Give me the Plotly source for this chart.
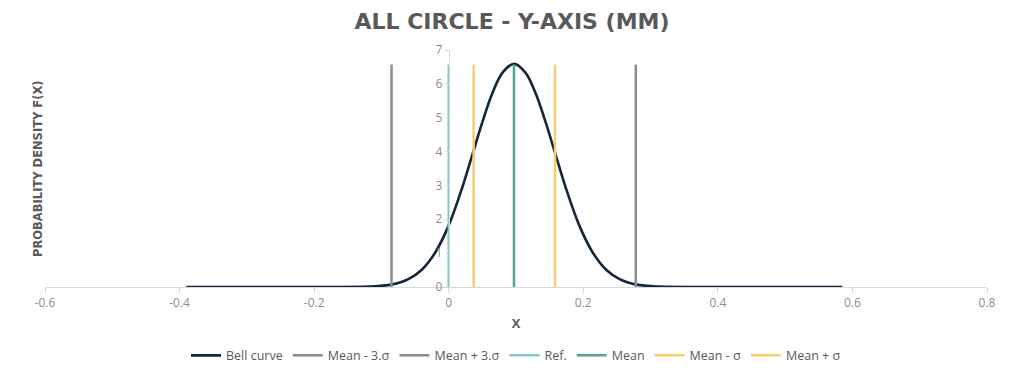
import plotly.graph_objects as go

# Bell curve points
curve_x = [-0.39, -0.2, -0.12, -0.085, -0.06, -0.04, -0.02, 0.0, 0.02, 0.037, 0.05, 0.065, 0.08, 0.097,
           0.114, 0.129, 0.144, 0.157, 0.174, 0.194, 0.214, 0.234, 0.254, 0.279, 0.314, 0.4, 0.585]
curve_y = [0.0, 0.0, 0.01, 0.07, 0.23, 0.51, 1.02, 1.82, 2.93, 4.03, 4.87, 5.73, 6.33, 6.59,
           6.33, 5.73, 4.87, 4.03, 2.93, 1.82, 1.02, 0.51, 0.23, 0.07, 0.01, 0.0, 0.0]

# Vertical reference lines
line_names = ["Mean - 3.σ", "Mean + 3.σ", "Ref.", "Mean", "Mean - σ", "Mean + σ"]
line_x = [-0.085, 0.278, 0.0, 0.097, 0.037, 0.158]
line_top = 6.57
line_colors = ["#8c8c8c", "#8c8c8c", "#7fcbc4", "#4fa887", "#f2d06b", "#f2d06b"]

x_ticks = [-0.6, -0.4, -0.2, 0, 0.2, 0.4, 0.6, 0.8]
y_ticks = [0, 1, 2, 3, 4, 5, 6, 7]

fig = go.Figure()
fig.add_trace(go.Scatter(x=curve_x, y=curve_y, mode="lines", name="Bell curve",
                         line=dict(color="#13263b", width=2.6, shape="spline", smoothing=1.0)))
for n, xv, c in zip(line_names, line_x, line_colors):
    fig.add_trace(go.Scatter(x=[xv, xv], y=[0, line_top], mode="lines", name=n,
                             line=dict(color=c, width=2.5)))

fig.update_layout(
    width=1024, height=383,
    paper_bgcolor="white", plot_bgcolor="white",
    margin=dict(l=45, r=37, t=50, b=94),
    title=dict(text="<b>ALL CIRCLE - Y-AXIS (MM)</b>", x=0.5, xanchor="center", y=0.945, yanchor="middle",
               font=dict(family="DejaVu Sans", size=22, color="#595959")),
    font=dict(family="Open Sans", color="#8c8c8c"),
    showlegend=True,
    legend=dict(orientation="h", x=0.5, xanchor="center", y=-0.29, yanchor="middle",
                font=dict(size=12.5, color="#595959"), itemwidth=30, traceorder="normal"),
    xaxis=dict(range=[-0.6, 0.8], tickvals=x_ticks, ticktext=[f"{v:g}" for v in x_ticks],
               showgrid=False, zeroline=False, showline=True, linecolor="#d9d9d9", linewidth=1,
               ticks="outside", ticklen=5, tickcolor="#d9d9d9",
               tickfont=dict(size=12, color="#8c8c8c"),
               title=dict(text="<b>X</b>", font=dict(size=13, color="#595959"), standoff=8)),
    yaxis=dict(range=[0, 7], tickvals=y_ticks, showgrid=False, zeroline=False,
               showline=True, linecolor="#d9d9d9", linewidth=1,
               ticks="outside", ticklen=4, tickcolor="#d9d9d9",
               tickfont=dict(size=12, color="#8c8c8c"),
               anchor="free", position=0.6 / 1.4),
    annotations=[dict(text="<b>PROBABILITY DENSITY F(X)</b>", textangle=-90, x=-0.008, xanchor="center",
                      xref="paper", y=0.5, yref="paper", showarrow=False,
                      font=dict(family="DejaVu Sans", size=11.5, color="#595959"))],
)
fig.write_html("out.html", config={"displayModeBar": False},
               post_script="document.body.style.margin='0';")
